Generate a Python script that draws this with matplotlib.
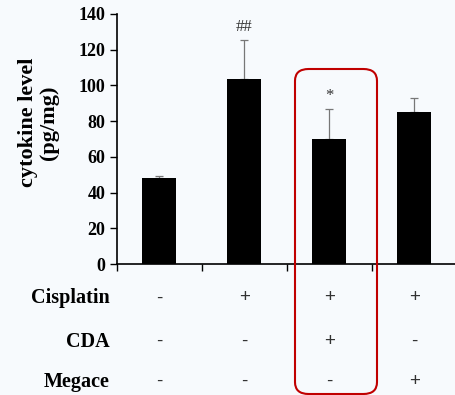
import matplotlib.pyplot as plt
from matplotlib.patches import FancyBboxPatch

plt.switch_backend('Agg')

groups = ['G1', 'G2', 'G3', 'G4']
values = [48.3, 103.8, 70.2, 85.1]
errors = [1.0, 21.6, 16.6, 7.7]
marks = ['', '##', '*', '']
rows = ['Cisplatin', 'CDA', 'Megace']
signs = [['-', '+', '+', '+'],
         ['-', '-', '+', '-'],
         ['-', '-', '-', '+']]

bg = '#f7fafd'
fig = plt.figure(figsize=(4.56, 3.95), dpi=100, facecolor=bg)
ax = fig.add_axes([0.2566, 0.3316, 0.745, 0.633], facecolor=bg)

x = list(range(len(groups)))
ax.bar(x, values, width=0.4, color='black', zorder=2)
ax.errorbar(x, values, yerr=[[0] * len(errors), errors], fmt='none',
            ecolor='#777777', elinewidth=0.9, capsize=3, capthick=0.9, zorder=1)
for xi, v, e, m in zip(x, values, errors, marks):
    if m:
        ax.text(xi, v + e + 3, m, ha='center', va='bottom', fontsize=12,
                family='Liberation Serif', color='#333333')

ax.set_xlim(-0.5, 3.5)
ax.set_ylim(0, 140)
ax.set_yticks(range(0, 141, 20))
ax.set_xticks([-0.5, 0.5, 1.5, 2.5])
ax.set_xticklabels([])
ax.tick_params(axis='both', direction='out', length=5, width=1)
for lab in ax.get_yticklabels():
    lab.set_family('Liberation Serif')
    lab.set_fontweight('bold')
    lab.set_fontsize(13)
for s in ['top', 'right']:
    ax.spines[s].set_visible(False)
ax.spines['left'].set_linewidth(1.2)
ax.spines['bottom'].set_linewidth(1.2)
ax.set_ylabel('cytokine level\n(pg/mg)', family='Liberation Serif',
              fontweight='bold', fontsize=16, labelpad=14, linespacing=1.05)
ax.yaxis.label.set_y(0.565)

# treatment table below the axis
row_y = [298, 341.7, 381.7]
for name, yy, sg in zip(rows, row_y, signs):
    yf = 1 - yy / 395
    fig.text(110 / 456, yf, name, ha='right', va='center', family='Liberation Serif',
             fontweight='bold', fontsize=14.5)
    for xi, s in zip(x, sg):
        xd = ax.transData.transform((xi, 0))[0]
        fig.text(xd / fig.bbox.width, yf, s, ha='center', va='center',
                 family='Liberation Sans', fontsize=13.5, color='#333333')

box = FancyBboxPatch((295 / 456, 1 - 394 / 395), 82 / 456, (394 - 69) / 395,
                     boxstyle='round,pad=0,rounding_size=0.03', transform=fig.transFigure,
                     fill=False, edgecolor='#c00000', linewidth=1.5)
fig.patches.append(box)

fig.savefig('out.png', dpi=100, facecolor=bg)
